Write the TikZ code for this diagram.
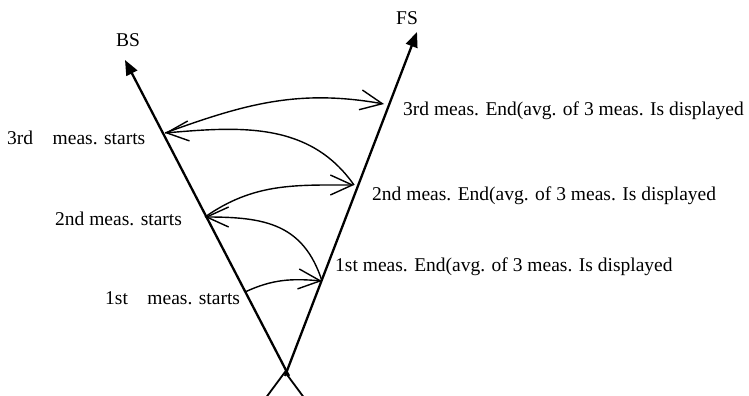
\documentclass[tikz,border=0pt]{standalone}
\usepackage{fontspec}
\setmainfont{Liberation Serif}
\usetikzlibrary{arrows.meta}

\begin{document}
\begin{tikzpicture}[x=1bp, y=1bp,
    sight/.style={line width=2.3bp, -{Triangle[length=15bp,width=12bp]}},
    meas/.style={line width=1.4bp, -{Straight Barb[length=22bp,width=20bp,line width=1.4bp]}},
    lbl/.style={anchor=west, inner sep=0pt, font=\fontsize{19.5bp}{22bp}\selectfont},
    tag/.style={inner sep=0pt, font=\fontsize{19.5bp}{22bp}\selectfont}]
    \useasboundingbox (0,0) rectangle (749,395);

    % instrument
    \draw[line width=1.8bp] (265,-4) -- (285,23) -- (305,-4);

    % backsight and foresight
    \coordinate (bsbot) at (289,19);
    \coordinate (bstop) at (125,335);
    \coordinate (fsbot) at (285,19);
    \coordinate (fstop) at (417,363);
    \draw[sight] (bsbot) -- (bstop);
    \draw[sight] (fsbot) -- (fstop);
    \node[tag] (bs) at (128,355) {BS};
    \node[tag] (fs) at (407,377) {FS};

    \coordinate (s1) at (245,103);
    \coordinate (s2) at (205,178);
    \coordinate (s3) at (165,262);
    \coordinate (e1) at (322,114);
    \coordinate (e2) at (354,210);
    \coordinate (e3) at (384,291);

    \draw[meas] (s1) to[out=25, in=175] (e1);
    \draw[meas] (e1) to[out=108, in=0, looseness=1.15] (s2);
    \draw[meas] (s2) to[out=35, in=180] (e2);
    \draw[meas] (e2) to[out=125, in=5] (s3);
    \draw[meas] (s3) to[out=20, in=170] (e3);

    \node[lbl] (st3) at (7,257) {3rd\quad meas. starts};
    \node[lbl] (st2) at (55,176) {2nd meas. starts};
    \node[lbl] (st1) at (105,97) {1st\quad meas. starts};
    \node[lbl] (en3) at (403,284) {3rd meas. End(avg. of 3 meas. Is displayed};
    \node[lbl] (en2) at (372,199) {2nd meas. End(avg. of 3 meas. Is displayed};
    \node[lbl] (en1) at (335,128) {1st meas. End(avg. of 3 meas. Is displayed};

\end{tikzpicture}
\end{document}
